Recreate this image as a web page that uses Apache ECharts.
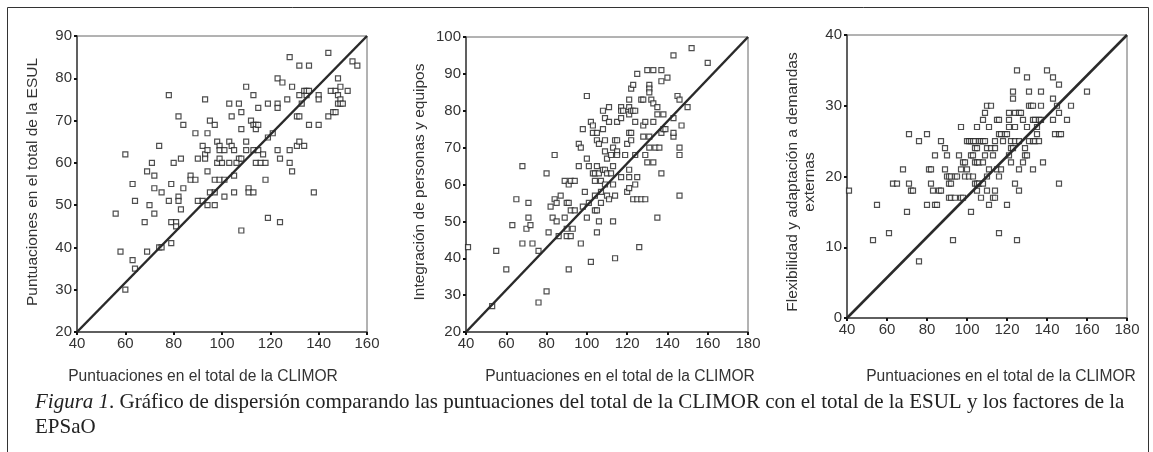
<!DOCTYPE html>
<html>
<head>
<meta charset="utf-8">
<script src="https://cdn.jsdelivr.net/npm/echarts@6/dist/echarts.min.js"></script>
<style>
    html,body{
        margin:0;
        padding:0;
        background:#fff;
    }
    #main{
        width:1153px;
        height:452px;
    }
</style>
</head>
<body>
<div id="main"></div>
<script>
// axis bounds [min, max] for each panel
var xRange1 = [40, 160];
var yRange1 = [20, 90];
var xRange2 = [40, 180];
var yRange2 = [20, 100];
var xRange3 = [40, 180];
var yRange3 = [0, 40];

var xTitle = 'Puntuaciones en el total de la CLIMOR';
var yTitle1 = 'Puntuaciones en el total de la ESUL';
var yTitle2 = 'Integración de personas y equipos';
var yTitle3 = 'Flexibilidad y adaptación a demandas\nexternas';

// CLIMOR total vs ESUL total
var esulPoints = [
    [56,48],[60,62],[58,39],[63,37],[63,55],[64,51],[64,35],[60,30],[68,46],[69,39],[69,58],[71,60],
    [70,50],[72,57],[72,54],[72,48],[74,64],[75,53],[74,40],[75,40],[78,76],[79,55],[78,51],[79,41],
    [79,46],[81,46],[80,60],[81,45],[82,71],[83,61],[82,52],[82,51],[83,49],[84,69],[84,54],[87,57],
    [87,56],[89,56],[89,67],[90,61],[90,51],[93,75],[92,64],[93,62],[93,61],[94,63],[94,67],[94,58],
    [92,51],[94,50],[95,53],[95,70],[97,69],[97,50],[97,53],[98,65],[99,64],[99,63],[98,60],[99,61],
    [100,60],[97,56],[99,56],[101,56],[101,52],[101,63],[103,74],[103,65],[103,60],[104,71],[104,64],
    [105,63],[105,57],[105,53],[107,74],[107,61],[106,60],[108,72],[108,68],[108,61],[108,44],[110,78],
    [110,65],[110,63],[111,54],[111,53],[112,70],[113,76],[113,69],[113,63],[113,53],[114,69],[114,68],
    [115,73],[115,69],[115,63],[114,60],[116,60],[117,62],[118,60],[118,56],[119,74],[119,66],[121,67],
    [119,47],[123,80],[123,74],[123,73],[123,63],[124,61],[124,46],[125,79],[127,75],[128,85],[128,63],
    [128,60],[129,78],[129,58],[131,64],[131,71],[132,71],[132,83],[132,76],[132,65],[133,74],[134,77],
    [134,64],[135,76],[135,77],[136,83],[136,77],[136,69],[138,53],[140,76],[140,75],[140,69],[144,86],
    [144,71],[145,77],[146,72],[147,72],[147,77],[148,80],[148,76],[148,74],[149,78],[149,75],[149,74],
    [150,74],[152,77],[154,84],[156,83]
];

// CLIMOR total vs Integración de personas y equipos
var integracionPoints = [
    [41,43],[55,42],[53,27],[60,37],[63,49],[65,56],[68,65],[68,44],[71,55],[71,51],[70,48],[72,49],
    [73,44],[76,42],[76,28],[80,63],[80,31],[81,47],[82,54],[84,68],[83,51],[84,56],[85,50],[85,55],
    [87,57],[86,46],[89,61],[89,51],[90,55],[91,55],[90,48],[90,46],[92,46],[91,60],[91,37],[92,61],
    [92,53],[94,61],[94,53],[93,48],[97,44],[96,71],[97,70],[96,65],[98,75],[99,58],[98,54],[100,84],
    [100,67],[101,65],[100,51],[102,39],[102,77],[101,55],[103,76],[103,74],[105,74],[103,63],[104,63],
    [105,65],[106,63],[104,61],[104,57],[104,53],[105,53],[105,47],[106,50],[105,72],[106,71],[107,61],
    [107,55],[107,58],[108,80],[108,75],[108,64],[109,64],[109,72],[109,78],[109,69],[109,60],[110,57],
    [110,67],[110,63],[111,56],[111,81],[111,77],[112,63],[112,68],[113,50],[113,70],[114,57],[113,65],
    [113,60],[114,40],[114,72],[115,72],[115,69],[115,68],[115,77],[117,62],[117,81],[117,78],[117,80],
    [118,80],[119,68],[120,71],[120,58],[121,83],[121,81],[121,79],[121,74],[121,64],[121,62],[121,59],
    [122,86],[122,72],[122,74],[122,80],[123,87],[123,80],[124,80],[123,56],[124,68],[124,77],[124,60],
    [125,90],[125,62],[125,56],[126,43],[127,56],[127,83],[128,83],[128,73],[128,76],[129,56],[129,68],
    [129,77],[130,91],[130,66],[131,87],[131,86],[131,85],[131,73],[131,70],[133,91],[132,83],[133,82],
    [133,77],[133,66],[135,81],[135,79],[134,70],[136,70],[135,51],[137,91],[137,88],[137,74],[137,63],
    [138,79],[138,75],[139,75],[140,89],[143,95],[143,78],[143,73],[143,74],[145,84],[146,83],[146,70],
    [146,68],[146,57],[147,76],[150,81],[152,97],[160,93]
];

// CLIMOR total vs Flexibilidad y adaptación a demandas externas
var flexibilidadPoints = [
    [41,18],[53,11],[55,16],[61,12],[63,19],[65,19],[68,21],[70,15],[71,26],[71,19],[72,18],[73,18],
    [76,25],[76,8],[80,26],[80,16],[81,21],[82,21],[82,19],[83,18],[84,23],[84,16],[85,16],[86,18],
    [87,18],[87,25],[89,24],[89,21],[90,23],[90,20],[91,20],[92,20],[91,19],[92,19],[91,17],[92,17],
    [93,11],[94,17],[94,20],[95,20],[96,23],[97,21],[97,27],[97,17],[98,17],[98,22],[99,22],[100,21],
    [100,25],[101,25],[99,20],[101,20],[102,25],[102,23],[102,15],[103,20],[103,25],[103,23],[104,24],
    [104,25],[104,22],[104,19],[105,19],[105,22],[105,24],[105,27],[105,18],[106,25],[106,19],[106,22],
    [107,25],[107,17],[108,19],[108,22],[108,25],[108,28],[109,29],[109,23],[109,25],[110,20],[110,30],
    [110,24],[111,21],[110,18],[111,27],[111,16],[112,30],[112,24],[113,23],[114,25],[114,24],[113,17],
    [114,17],[114,18],[115,28],[115,21],[116,28],[116,26],[116,20],[116,12],[117,21],[117,26],[118,25],
    [119,26],[120,26],[120,16],[121,28],[121,29],[121,27],[121,23],[122,22],[122,25],[122,24],[123,32],
    [123,31],[123,24],[124,25],[124,29],[124,27],[124,19],[125,35],[125,11],[126,29],[126,21],[126,18],
    [127,29],[126,25],[128,28],[128,22],[129,24],[129,23],[130,34],[130,27],[130,23],[131,32],[131,25],
    [131,30],[132,30],[133,30],[133,28],[133,25],[133,21],[134,28],[134,25],[135,27],[135,26],[136,25],
    [136,28],[137,32],[137,30],[137,28],[138,22],[140,35],[143,34],[143,31],[143,28],[144,26],[145,30],
    [146,33],[146,29],[146,26],[146,19],[147,26],[150,28],[152,30],[160,32]
];

var sans = 'Liberation Sans, Arial, sans-serif';
var serif = 'Liberation Serif, Times New Roman, serif';

var grids = [
    {left:77, top:36, width:290, height:296},
    {left:466, top:37, width:282, height:295},
    {left:847, top:35, width:280, height:283}
];

function makeAxis(idx, range, interval, isX){
    return {
        type:'value',
        gridIndex:idx,
        min:range[0],
        max:range[1],
        interval:interval,
        axisLine:{ show:true, lineStyle:{ color:'#444', width:1.5 } },
        axisTick:{ show:true, length:3, lineStyle:{ color:'#111', width:2 } },
        axisLabel:{ color:'#333', fontFamily:sans, fontSize:15, margin:isX ? 4 : 5 },
        splitLine:{ show:false }
    };
}

function scatterSeries(idx, points){
    return {
        type:'scatter',
        xAxisIndex:idx,
        yAxisIndex:idx,
        data:points,
        symbol:'rect',
        symbolSize:5,
        itemStyle:{ color:'#fff', borderColor:'#222', borderWidth:1.2 },
        silent:true,
        z:3
    };
}

// the diagonal goes corner to corner of each panel
function diagonalSeries(idx, xr, yr){
    return {
        type:'line',
        xAxisIndex:idx,
        yAxisIndex:idx,
        data:[[xr[0], yr[0]], [xr[1], yr[1]]],
        showSymbol:false,
        lineStyle:{ color:'#2a2a2a', width:2.5 },
        silent:true,
        z:4
    };
}

function vTitle(x, y, text){
    return {
        type:'text',
        x:x,
        y:y,
        rotation:Math.PI/2,
        style:{
            text:text,
            font:'15.5px ' + sans,
            fill:'#333',
            align:'center',
            verticalAlign:'middle',
            lineHeight:17
        }
    };
}

function hTitle(x, y, text){
    return {
        type:'text',
        x:x,
        y:y,
        style:{
            text:text,
            font:'15.6px ' + sans,
            fill:'#333',
            align:'center',
            verticalAlign:'middle'
        }
    };
}

var option = {
    animation:false,
    backgroundColor:'#fff',
    grid:grids.map(function(g){
        return Object.assign({ show:true, borderColor:'#666', borderWidth:1, backgroundColor:'transparent' }, g);
    }),
    xAxis:[
        makeAxis(0, xRange1, 20, true),
        makeAxis(1, xRange2, 20, true),
        makeAxis(2, xRange3, 20, true)
    ],
    yAxis:[
        makeAxis(0, yRange1, 10, false),
        makeAxis(1, yRange2, 10, false),
        makeAxis(2, yRange3, 10, false)
    ],
    series:[
        diagonalSeries(0, xRange1, yRange1),
        scatterSeries(0, esulPoints),
        diagonalSeries(1, xRange2, yRange2),
        scatterSeries(1, integracionPoints),
        diagonalSeries(2, xRange3, yRange3),
        scatterSeries(2, flexibilidadPoints)
    ],
    graphic:[
        {
            type:'rect',
            shape:{ x:7.5, y:7.5, width:1141, height:460 },
            style:{ fill:'none', stroke:'#333', lineWidth:1 },
            silent:true
        },
        vTitle(33, 182, yTitle1),
        vTitle(420, 182, yTitle2),
        vTitle(801, 182, yTitle3),
        hTitle(203, 377, xTitle),
        hTitle(620, 377, xTitle),
        hTitle(1001, 377, xTitle),
        {
            type:'text',
            x:35,
            y:390,
            style:{
                text:'{i|Figura 1}. Gráfico de dispersión comparando las puntuaciones del total de la CLIMOR con el total de la ESUL y los factores de la\nEPSaO',
                font:'21px ' + serif,
                fill:'#222',
                verticalAlign:'top',
                lineHeight:25,
                rich:{
                    i:{ fontStyle:'italic', font:'italic 21px ' + serif }
                }
            }
        }
    ]
};

var myChart = echarts.init(document.getElementById('main'));
myChart.setOption(option);
</script>
</body>
</html>
